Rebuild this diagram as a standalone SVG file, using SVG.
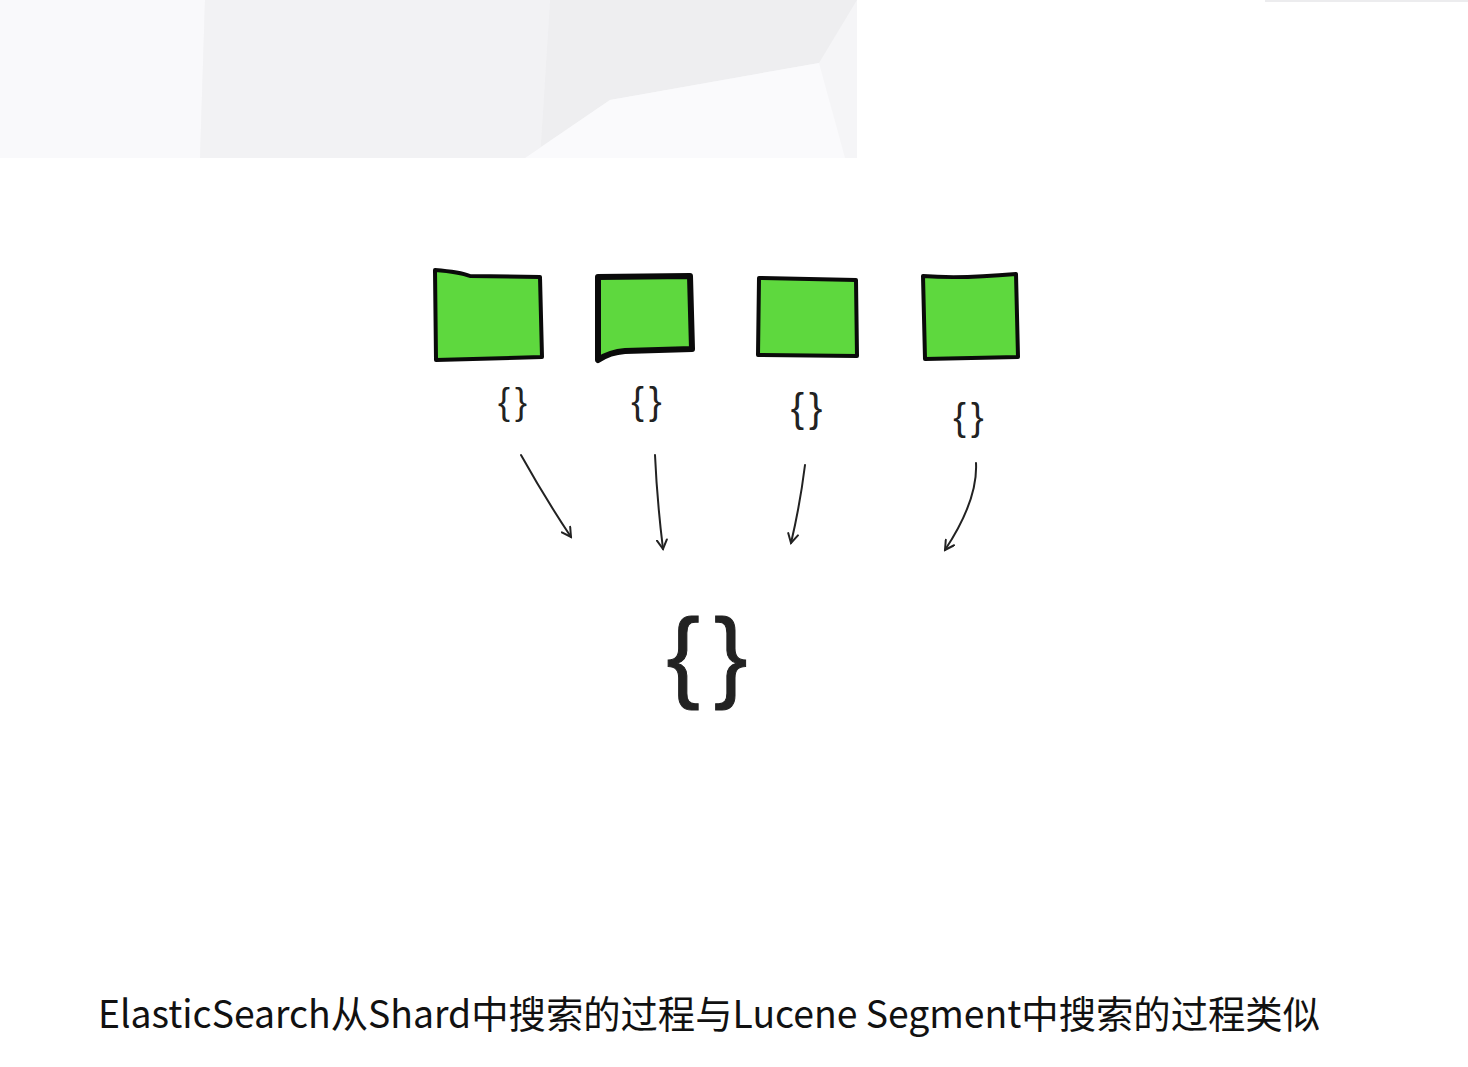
<svg xmlns="http://www.w3.org/2000/svg" width="1468" height="1067" viewBox="0 0 1468 1067">
<style>
.box{fill:#5ed83e;stroke:#0a0a0a;stroke-width:4;stroke-linejoin:round}
.arr{fill:none;stroke:#222;stroke-width:2;stroke-linecap:round}
.br{font-family:"Liberation Sans",sans-serif;fill:#222;letter-spacing:5px}
.cap{font-family:"Noto Sans CJK SC","Noto Sans",sans-serif;fill:#111}
</style>
<defs>
<marker id="ah" viewBox="0 0 12 12" refX="10" refY="6" markerWidth="12" markerHeight="12" markerUnits="userSpaceOnUse" orient="auto">
<path d="M1,1 L10,6 L1,11" fill="none" stroke="#222" stroke-width="2" stroke-linecap="round"/>
</marker>
</defs>
<rect width="1468" height="1067" fill="#fff"/>
<g id="background">
<polygon points="0,0 857,0 857,158 0,158" fill="#f5f5f7"/>
<polygon points="0,0 205,0 200,158 0,158" fill="#f9f9fb"/>
<polygon points="205,0 550,0 540,158 200,158" fill="#f2f2f4"/>
<polygon points="550,0 857,0 819,63 610,100 525,158 540,158" fill="#eeeef0"/>
<polygon points="610,100 819,63 845,158 525,158" fill="#fafafc"/>
<line x1="1265" y1="1" x2="1468" y2="1" stroke="#ececee" stroke-width="2"/>
</g>
<g id="shard1"><path class="box" d="M435,270 Q460,272 470,276 L540,277 L542,357 L436,360 Z"/></g>
<g id="shard2"><path class="box" d="M598,277 L690,276 L692,349 L625,351 Q610,352 598,360 Z" style="stroke-width:6"/></g>
<g id="shard3"><path class="box" d="M759,278 L856,280 L857,356 L758,355 Z"/></g>
<g id="shard4"><path class="box" d="M923,276 Q960,279 1016,274 L1018,357 L925,359 Z"/></g>
<g id="res1"><text class="br" x="515" y="414" font-size="36" text-anchor="middle">{}</text></g>
<g id="res2"><text class="br" x="649" y="414" font-size="38" text-anchor="middle">{}</text></g>
<g id="res3"><text class="br" x="809" y="422" font-size="40" text-anchor="middle">{}</text></g>
<g id="res4"><text class="br" x="971" y="430" font-size="38" text-anchor="middle">{}</text></g>
<g id="connectors">
<path class="arr" d="M521,455 Q545,498 571,537" marker-end="url(#ah)"/>
<path class="arr" d="M655,455 Q657,500 663,549" marker-end="url(#ah)"/>
<path class="arr" d="M805,465 Q800,505 791,543" marker-end="url(#ah)"/>
<path class="arr" d="M976,463 Q978,500 945,550" marker-end="url(#ah)"/>
</g>
<g id="merged"><text class="br" x="714" y="689" font-size="100" text-anchor="middle" style="letter-spacing:14px;stroke:#222;stroke-width:1">{}</text></g>
<g id="caption"><text class="cap" x="98" y="1028" font-size="38" textLength="1222" lengthAdjust="spacingAndGlyphs">ElasticSearch从Shard中搜索的过程与Lucene Segment中搜索的过程类似</text></g>
</svg>
